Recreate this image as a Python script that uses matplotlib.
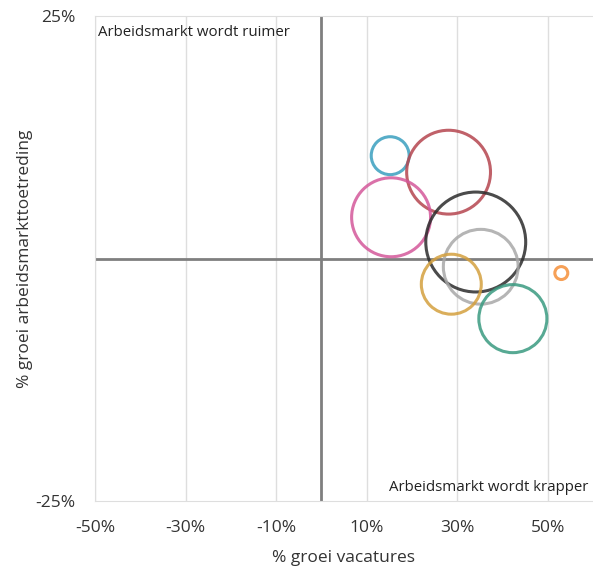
import matplotlib.pyplot as plt

# =========================
# Data
# =========================
vacature_groei = [15.2, 28.1, 15.4, 34.1, 35.2, 28.7, 42.3, 53.0]
toetreding_groei = [10.6, 8.9, 4.25, 1.7, -0.85, -2.65, -6.2, -1.5]
bubbel_grootte = [3.6, 17.6, 15.6, 25.0, 14.0, 9.0, 11.6, 0.42]
kleuren = ["#3a9fbf", "#b5454f", "#d4589a", "#2b2b2b", "#a8a8a8",
           "#d4a03e", "#3a9a80", "#f5903a"]

x_ticks = [-50, -30, -10, 10, 30, 50]
y_ticks = [-25, 25]

plt.rcParams['font.family'] = ['Open Sans', 'DejaVu Sans']


def plot_bubbles():
    fig = plt.figure(figsize=(5.93, 5.67), dpi=100)
    ax = fig.add_axes([95 / 593, 66 / 567, 498 / 593, 485 / 567])

    sizes = [v * 207 for v in bubbel_grootte]
    ax.scatter(vacature_groei, toetreding_groei, s=sizes,
               facecolors="none", edgecolors=kleuren, linewidths=2.2,
               alpha=0.85, zorder=3)

    ax.set_xlim(-50, 60)
    ax.set_ylim(-25, 25)
    ax.set_xticks(x_ticks)
    ax.set_xticklabels([f"{t}%" for t in x_ticks])
    ax.set_yticks(y_ticks)
    ax.set_yticklabels([f"{t}%" for t in y_ticks])
    ax.tick_params(length=0, labelsize=12.5, colors="#333333")
    ax.tick_params(axis="x", pad=14)
    ax.tick_params(axis="y", pad=14)

    ax.grid(axis="x", color="#dedede", linewidth=1)
    ax.set_axisbelow(True)
    for side in ["top", "bottom", "left"]:
        ax.spines[side].set_color("#dedede")
    ax.spines["right"].set_visible(False)

    ax.axhline(0, color="#7f7f7f", linewidth=2, zorder=2)
    ax.axvline(0, color="#7f7f7f", linewidth=2, zorder=2)

    ax.text(0.006, 0.982, "Arbeidsmarkt wordt ruimer", transform=ax.transAxes,
            ha="left", va="top", fontsize=10.8, color="#222222")
    ax.text(0.99, 0.012, "Arbeidsmarkt wordt krapper", transform=ax.transAxes,
            ha="right", va="bottom", fontsize=10.8, color="#222222")

    ax.set_xlabel("% groei vacatures", fontsize=12.5, color="#333333", labelpad=10)
    ax.set_ylabel("% groei arbeidsmarkttoetreding", fontsize=12.5,
                  color="#333333", labelpad=2)

    fig.savefig("out.png", dpi=100)
    plt.close(fig)


if __name__ == "__main__":
    plot_bubbles()
